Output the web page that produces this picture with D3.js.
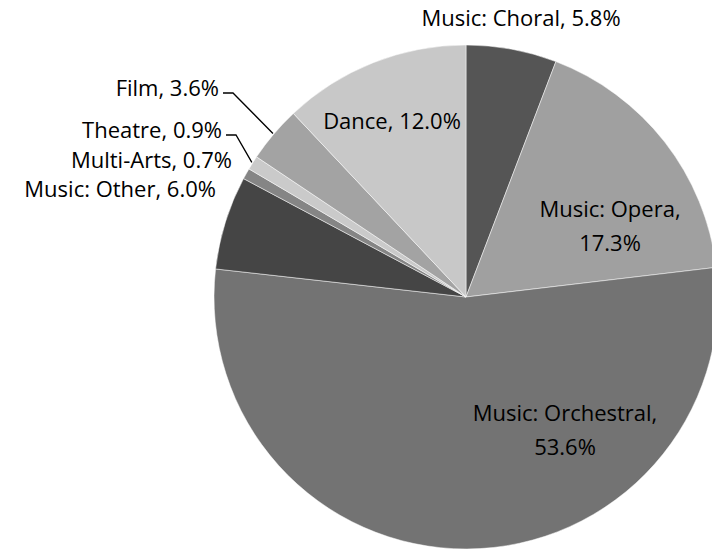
<!DOCTYPE html>
<html>
<head>
<meta charset="utf-8">
<script src="https://cdn.jsdelivr.net/npm/d3@7"></script>
<style>
  body { margin: 0; background: #fff; }
  text { font-family: "Open Sans", "Noto Sans", sans-serif; fill: #000; }
</style>
</head>
<body>
<svg id="chart" width="712" height="550"></svg>
<script>
// slices, clockwise from 12 o'clock
const categories = ['Music: Choral', 'Music: Opera', 'Music: Orchestral', 'Music: Other',
  'Multi-Arts', 'Theatre', 'Film', 'Dance']
const values = [5.8, 17.3, 53.6, 6.0, 0.7, 0.9, 3.6, 12.0]
const shades = ['#555555', '#a0a0a0', '#737373', '#454545', '#858585', '#cacaca', '#a3a3a3', '#c8c8c8']

const cx = 466, cy = 297, r = 252

const svg = d3.select('#chart')
const g = svg.append('g').attr('transform', `translate(${cx},${cy})`)

const pie = d3.pie().sort(null).value(d => d.value)
const arc = d3.arc().innerRadius(0).outerRadius(r)
const data = categories.map((c, i) => ({ name: c, value: values[i], color: shades[i] }))
const arcs = pie(data)

g.selectAll('path.slice')
  .data(arcs)
  .join('path')
  .attr('class', 'slice')
  .attr('d', arc)
  .attr('fill', d => d.data.color)
  .attr('stroke', '#fff')
  .attr('stroke-width', 0.5)

// label placement per slice (offsets from centre, anchor, lines, optional leader)
const fmt = v => v.toFixed(1) + '%'
const labelSpec = {
  'Music: Choral': { x: 55, y: -279, anchor: 'middle', oneLine: true },
  'Music: Opera': { x: 144, y: -71, anchor: 'middle' },
  'Music: Orchestral': { x: 99, y: 133, anchor: 'middle' },
  'Music: Other': { x: -250, y: -108, anchor: 'end', oneLine: true },
  'Multi-Arts': { x: -234, y: -137, anchor: 'end', oneLine: true },
  'Theatre': { x: -244, y: -167, anchor: 'end', oneLine: true, leader: true },
  'Film': { x: -247, y: -209, anchor: 'end', oneLine: true, leader: true },
  'Dance': { x: -74, y: -176, anchor: 'middle', oneLine: true }
}

const fs = 22
arcs.forEach(a => {
  const s = labelSpec[a.data.name]
  const t = g.append('text')
    .attr('text-anchor', s.anchor)
    .attr('font-size', fs)
  if (s.oneLine) {
    t.append('tspan').attr('x', s.x).attr('y', s.y).attr('dy', '0.35em')
      .text(`${a.data.name}, ${fmt(a.data.value)}`)
  } else {
    t.append('tspan').attr('x', s.x).attr('y', s.y - 17).attr('dy', '0.35em')
      .text(`${a.data.name},`)
    t.append('tspan').attr('x', s.x).attr('y', s.y + 17).attr('dy', '0.35em')
      .text(fmt(a.data.value))
  }
  if (s.leader) {
    const mid = (a.startAngle + a.endAngle) / 2
    const ex = Math.sin(mid) * (r + 1), ey = -Math.cos(mid) * (r + 1)
    const sx = s.x + 4, sy = s.y + 5
    g.append('path')
      .attr('d', `M${sx},${sy}H${sx + 10}L${ex},${ey}`)
      .attr('fill', 'none')
      .attr('stroke', '#000')
      .attr('stroke-width', 1.3)
  }
})
</script>
</body>
</html>
